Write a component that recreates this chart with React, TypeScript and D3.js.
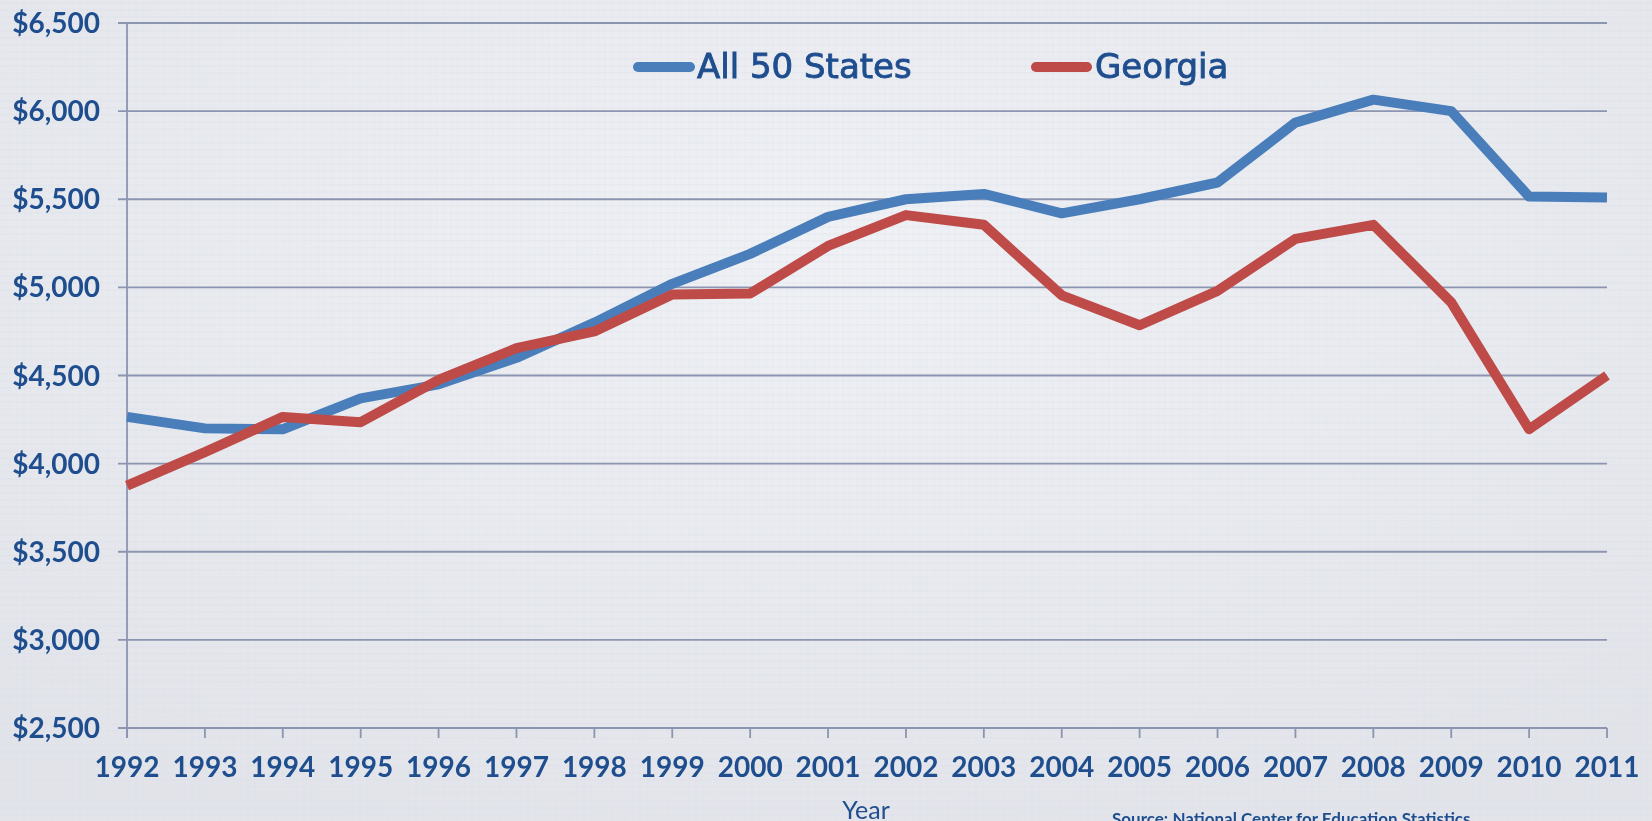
import React from "react";
import * as d3 from "d3";

const years: number[] = [1992, 1993, 1994, 1995, 1996, 1997, 1998, 1999, 2000, 2001, 2002, 2003, 2004, 2005, 2006, 2007, 2008, 2009, 2010, 2011];
const allStates: number[] = [4265, 4200, 4195, 4370, 4450, 4600, 4800, 5020, 5190, 5400, 5500, 5530, 5420, 5500, 5595, 5935, 6065, 6000, 5515, 5510];
const georgia: number[] = [3875, 4065, 4265, 4235, 4475, 4655, 4750, 4960, 4965, 5235, 5410, 5355, 4955, 4785, 4980, 5275, 5355, 4915, 4195, 4500];
const yTicks: number[] = [2500, 3000, 3500, 4000, 4500, 5000, 5500, 6000, 6500];
const seriesNames: string[] = ["All 50 States", "Georgia"];

const W = 1652;
const H = 821;
const TEXT = "#1F4E8F";
const GRID = "#8C95B0";
const BLUE = "#4A7EBB";
const RED = "#BE4B48";

export default function App() {
  const x = d3.scaleLinear().domain([1992, 2011]).range([127, 1607]);
  const y = d3.scaleLinear().domain([2500, 6500]).range([728, 23]);
  const line = d3
    .line<number>()
    .x((_, i) => x(years[i]))
    .y((d) => y(d));
  const fmt = d3.format("$,");

  return (
    <div style={{ position: "fixed", left: 0, top: 0, width: W, height: H }}>
      <svg width={W} height={H} style={{ display: "block" }}>
        <defs>
          <radialGradient id="bg" cx="50%" cy="30%" r="75%">
            <stop offset="0%" stopColor="#EFF1F5" />
            <stop offset="100%" stopColor="#E2E4EA" />
          </radialGradient>
          <pattern id="tex" width="7" height="7" patternUnits="userSpaceOnUse">
            <rect width="7" height="7" fill="none" />
            <line x1="0" y1="3" x2="7" y2="3" stroke="#D8DBE3" strokeWidth="1" opacity="0.35" />
            <line x1="3" y1="0" x2="3" y2="7" stroke="#D8DBE3" strokeWidth="1" opacity="0.25" />
          </pattern>
        </defs>
        <rect width={W} height={H} fill="url(#bg)" />
        <rect width={W} height={H} fill="url(#tex)" />

        {/* gridlines */}
        {yTicks.map((t) => (
          <line key={t} x1={118} x2={1607} y1={y(t)} y2={y(t)} stroke={GRID} strokeWidth={1.8} />
        ))}
        {/* y axis */}
        <line x1={127} x2={127} y1={y(6500)} y2={738} stroke={GRID} strokeWidth={1.8} />
        {/* x ticks */}
        {years.map((yr) => (
          <line key={yr} x1={x(yr)} x2={x(yr)} y1={728} y2={738} stroke={GRID} strokeWidth={1.8} />
        ))}

        {/* y labels */}
        {yTicks.map((t) => (
          <text
            key={t}
            x={100}
            y={y(t)}
            dy="0.36em"
            textAnchor="end"
            fontFamily="Lato"
            fontWeight={700}
            fontSize={28}
            fill={TEXT}
          >
            {fmt(t)}
          </text>
        ))}

        {/* x labels */}
        {years.map((yr) => (
          <text
            key={yr}
            x={x(yr)}
            y={777}
            textAnchor="middle"
            fontFamily="Lato"
            fontWeight={700}
            fontSize={28}
            fill={TEXT}
          >
            {yr}
          </text>
        ))}

        {/* lines */}
        <path d={line(allStates) || ""} fill="none" stroke={BLUE} strokeWidth={10} strokeLinejoin="round" />
        <path d={line(georgia) || ""} fill="none" stroke={RED} strokeWidth={10} strokeLinejoin="round" />

        {/* legend */}
        <line x1={638} x2={690} y1={67} y2={67} stroke={BLUE} strokeWidth={10} strokeLinecap="round" />
        <text x={697} y={78} fontFamily="DejaVu Sans" fontSize={34} fill={TEXT} stroke={TEXT} strokeWidth={0.9}>
          {seriesNames[0]}
        </text>
        <line x1={1036} x2={1087} y1={67} y2={67} stroke={RED} strokeWidth={10} strokeLinecap="round" />
        <text x={1095} y={78} fontFamily="DejaVu Sans" fontSize={34} fill={TEXT} stroke={TEXT} strokeWidth={0.9}>
          {seriesNames[1]}
        </text>

        {/* axis title */}
        <text x={866} y={819} textAnchor="middle" fontFamily="Lato" fontSize={25} fill={TEXT}>
          Year
        </text>
        {/* source */}
        <text x={1112} y={825} fontFamily="Lato" fontWeight={700} fontSize={17} fill={TEXT}>
          Source: National Center for Education Statistics
        </text>
      </svg>
    </div>
  );
}
